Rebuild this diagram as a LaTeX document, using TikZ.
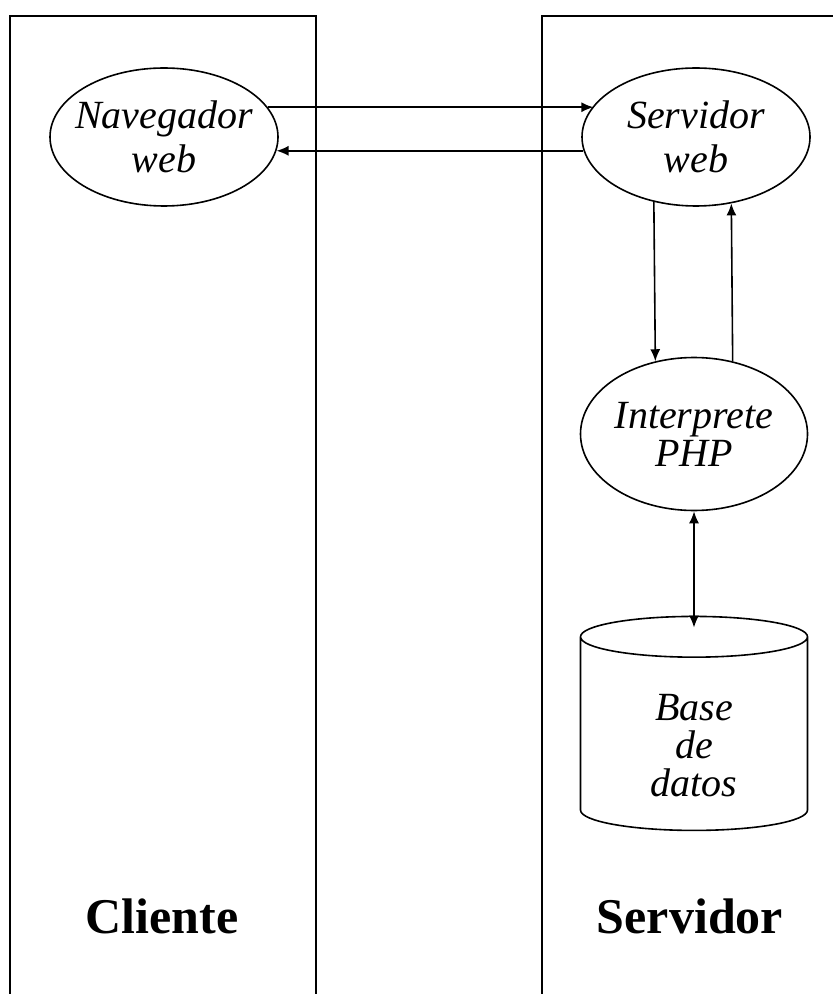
\documentclass[tikz,border=0pt]{standalone}
\usepackage{fontspec}
\setmainfont{Liberation Serif}
\usetikzlibrary{shapes.geometric,arrows.meta,positioning}
\begin{document}
\begin{tikzpicture}[x=0.5pt, y=-0.5pt,
    bubble/.style={ellipse, draw, line width=0.8pt, inner xsep=-6pt, inner ysep=0pt,
        minimum width=114pt, minimum height=69pt, align=center,
        font=\fontsize{20}{22}\selectfont\itshape},
    side/.style={inner sep=0pt, font=\fontsize{25}{28}\selectfont\bfseries},
    arr/.style={-{Latex[length=6pt,width=5pt]}, line width=0.8pt},
    wall/.style={line width=1pt}]
    \useasboundingbox (0,0) rectangle (833,994);

    % Cliente
    \node(nav) [bubble] at (164,137) {Navegador\\web};
    \node(cliente) [side] at (162,916) {Cliente};

    % Servidor
    \node(srv) [bubble] at (696,137) {Servidor\\web};
    \node(php) [bubble, minimum width=113.5pt, minimum height=76.5pt,
        font=\fontsize{20}{19}\selectfont\itshape] at (694,434) {Interprete\\PHP};
    \node(db) [cylinder, shape border rotate=90, draw, line width=0.8pt, aspect=0.47,
        minimum width=113.5pt, minimum height=107pt, inner sep=0pt, align=center,
        text height=63pt, font=\fontsize{20}{19}\selectfont\itshape]
        at (694,734) {Base\\de\\datos};
    \node(servidor) [side] at (690,916) {Servidor};

    % Draw Lines
    \draw[wall] (10,994) |- (316,16) -- (316,994);
    \draw[wall] (542,994) |- (833,16);

    \draw[arr] (nav.16.3) -- (srv.163.7 |- nav.16.3);
    \draw[arr] (srv.187.7) -- (nav.-7.7 |- srv.187.7);
    \draw[arr] (srv.237.5) -- (php.118.3);
    \draw[arr] (php.62.3) -- (srv.298.8);
    \draw[arr, {Latex[length=6pt,width=5pt]}-{Latex[length=6pt,width=5pt]}]
        (php.south) -- ([yshift=-6pt]db.top);

\end{tikzpicture}
\end{document}
